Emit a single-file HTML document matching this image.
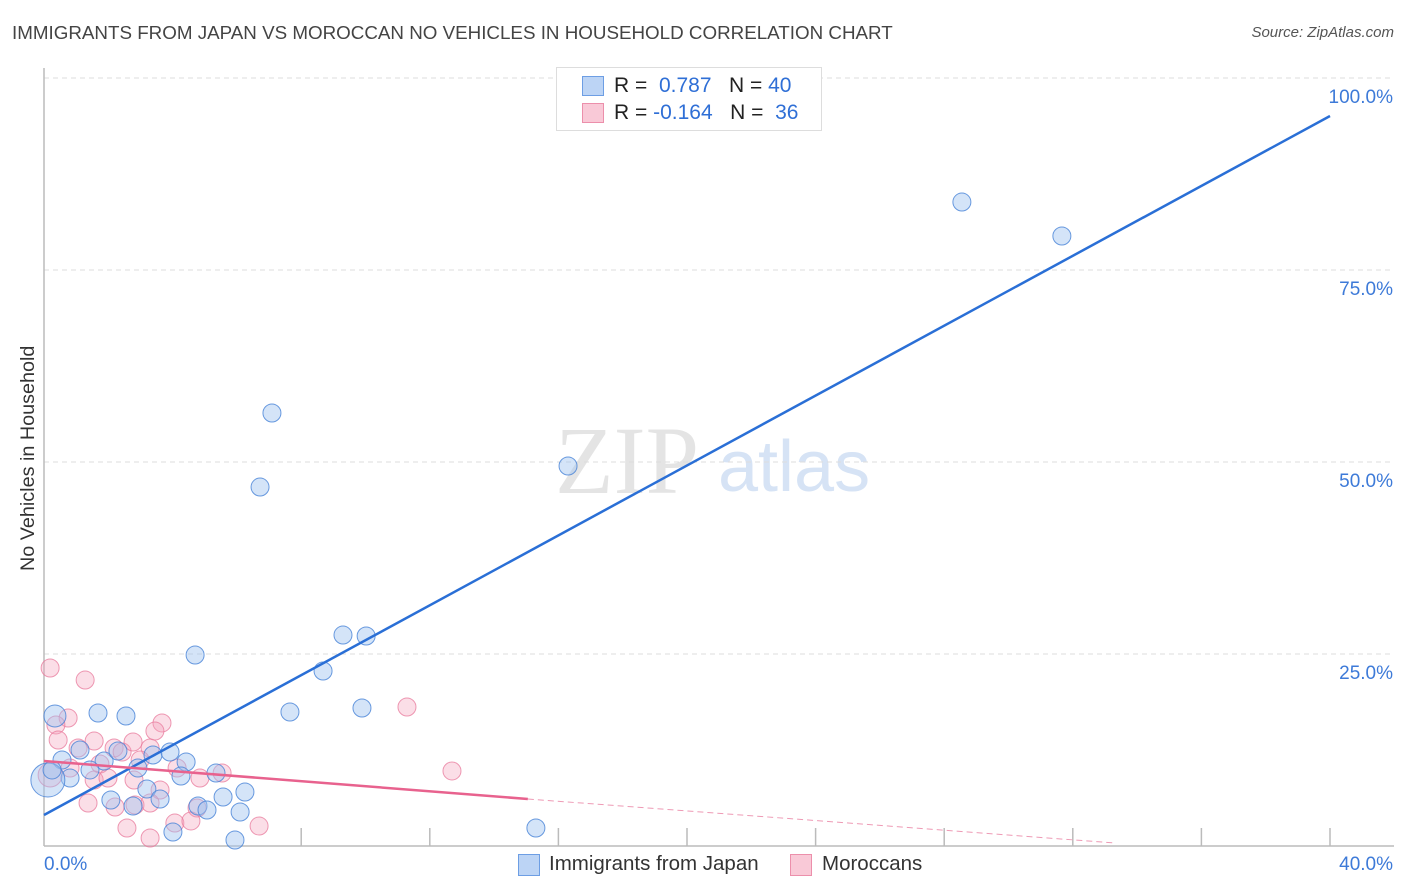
<!DOCTYPE html>
<html><head><meta charset="utf-8"><style>
body{margin:0;background:#fff;font-family:"Liberation Sans",sans-serif;}
#wrap{position:relative;width:1406px;height:892px;overflow:hidden;}
.t{position:absolute;white-space:nowrap;}
</style></head><body>
<div id="wrap">
<div class="t" style="left:12px;top:22px;font-size:18.8px;color:#444;">IMMIGRANTS FROM JAPAN VS MOROCCAN NO VEHICLES IN HOUSEHOLD CORRELATION CHART</div>
<div class="t" style="right:12px;top:24px;font-size:15px;color:#555;font-style:italic;">Source: ZipAtlas.com</div>
<div class="t" style="left:17px;font-size:19.8px;color:#333;transform:rotate(-90deg);transform-origin:0 0;top:571px;">No Vehicles in Household</div>
<svg id="svg" width="1406" height="892" style="position:absolute;left:0;top:0">
<text x="555" y="493" font-family="Liberation Serif" font-size="96" fill="#e4e4e4">ZIP</text>
<text x="718" y="491" font-family="Liberation Sans" font-size="72" fill="#d6e3f5">atlas</text>
</svg>
<div style="position:absolute;left:556px;top:67px;width:264px;height:62px;border:1px solid #ddd;background:#fff;">
<div style="position:absolute;left:25px;top:8px;width:20px;height:18px;background:#bcd4f5;border:1px solid #6d9ee4;"></div>
<div class="t" style="left:57px;top:6px;font-size:21px;color:#222;">R = <span style="color:#2f6fd6">&nbsp;0.787</span>&nbsp;&nbsp;&nbsp;N = <span style="color:#2f6fd6">40</span></div>
<div style="position:absolute;left:25px;top:35px;width:20px;height:18px;background:#f9c9d7;border:1px solid #ec8fab;"></div>
<div class="t" style="left:57px;top:33px;font-size:21px;color:#222;">R = <span style="color:#2f6fd6">-0.164</span>&nbsp;&nbsp;&nbsp;N = <span style="color:#2f6fd6">&nbsp;36</span></div>
</div>
<div style="position:absolute;left:518px;top:854px;width:20px;height:20px;background:#bcd4f5;border:1px solid #6d9ee4;"></div>
<div class="t" style="left:549px;top:852px;font-size:20.5px;color:#333;">Immigrants from Japan</div>
<div style="position:absolute;left:790px;top:854px;width:20px;height:20px;background:#f9c9d7;border:1px solid #ec8fab;"></div>
<div class="t" style="left:822px;top:852px;font-size:20.5px;color:#333;">Moroccans</div>
</div>
<script>
const yTicks=[25,50,75,100];
const yTickLabels=["25.0%","50.0%","75.0%","100.0%"];
const xTickLabels=["0.0%","40.0%"];
const japanX=[28.55,31.66,7.09,6.72,16.30,4.70,9.30,10.02,8.68,7.65,9.89,15.30,0.34,1.68,2.55,1.12,0.56,1.87,2.30,3.39,3.92,4.42,1.43,2.92,4.26,5.35,0.81,0.12,3.20,2.08,2.77,3.61,5.57,6.25,4.79,5.07,6.10,4.01,5.94,0.25];
const japanY=[83.85,79.43,56.38,46.74,49.48,24.87,27.47,27.34,22.79,17.45,17.97,2.34,16.93,17.32,16.93,12.5,11.2,11.07,12.37,11.85,12.24,10.94,9.9,10.16,9.11,9.5,8.85,8.59,7.42,5.99,5.21,6.12,6.38,7.03,5.21,4.69,4.43,1.82,0.78,9.9];
const japanR=[9,9,9,9,9,9,9,9,9,9,9,9,11,9,9,9,9,9,9,9,9,9,9,9,9,9,9,17,9,9,9,9,9,9,9,9,9,9,9,9];
const morX=[0.19,1.28,0.75,0.37,0.44,1.56,1.06,2.18,3.30,3.67,3.45,2.43,2.77,0.81,1.74,2.99,4.14,1.56,1.99,2.80,3.61,1.37,2.21,2.83,3.30,4.76,4.85,5.54,2.58,3.30,4.07,4.57,6.69,11.29,12.69,0.19];
const morY=[23.18,21.61,16.67,15.76,13.8,13.67,12.76,12.76,12.76,16.02,14.97,12.24,13.54,10.16,10.68,11.2,10.16,8.59,8.85,8.59,7.29,5.6,5.08,5.34,5.6,4.95,8.85,9.5,2.34,1.04,2.99,3.26,2.6,18.1,9.77,9.24];
const morR=[9,9,9,9,9,9,9,9,9,9,9,9,9,9,9,9,9,9,9,9,9,9,9,9,9,9,9,9,9,9,9,9,9,9,9,12];
const japanTrend=[[0,4.04],[40,95.05]];
const morTrendSolid=[[0,11.07],[15.05,6.12]];
const morTrendDash=[[15.05,6.12],[33.31,0.39]];

const X0=44,X1=1330,Y0=846,Y100=78;
const sx=v=>X0+(v/40)*(X1-X0);
const sy=v=>Y0-(v/100)*(Y0-Y100);
const svg=document.getElementById('svg');
const NS='http://www.w3.org/2000/svg';
function mk(tag,attrs){const e=document.createElementNS(NS,tag);for(const k in attrs)e.setAttribute(k,attrs[k]);svg.appendChild(e);return e;}

yTicks.forEach((t,i)=>{
  const g=mk('line',{x1:X0,x2:1394,y1:sy(t),y2:sy(t),stroke:'#ddd','stroke-dasharray':'5,4'});
  
  
  const l=mk('text',{x:1393,y:sy(t)+25,'text-anchor':'end','font-size':19,fill:'#3d7ad8','font-family':'Liberation Sans'});
  l.textContent=yTickLabels[i];
  
  
});
const ax=mk('line',{x1:X0,x2:X0,y1:68,y2:Y0,stroke:'#bbb','stroke-width':1.5});


const bx=mk('line',{x1:X0,x2:1394,y1:Y0,y2:Y0,stroke:'#bbb','stroke-width':1.5});


for(let i=2;i<=10;i++){
  const tk=mk('line',{x1:sx(i*4),x2:sx(i*4),y1:828,y2:Y0,stroke:'#bbb','stroke-width':1.5});
  
  
}
const xl0=mk('text',{x:X0,y:870,'font-size':19,fill:'#3d7ad8','font-family':'Liberation Sans'});
xl0.textContent=xTickLabels[0];


const xl1=mk('text',{x:1393,y:870,'text-anchor':'end','font-size':19,fill:'#3d7ad8','font-family':'Liberation Sans'});
xl1.textContent=xTickLabels[1];



morX.forEach((x,i)=>{
  const c=mk('circle',{cx:sx(x),cy:sy(morY[i]),r:morR[i],fill:'rgba(244,160,185,0.35)',stroke:'rgba(232,120,155,0.75)','stroke-width':1});
  
  
});
japanX.forEach((x,i)=>{
  const c=mk('circle',{cx:sx(x),cy:sy(japanY[i]),r:japanR[i],fill:'rgba(160,195,240,0.45)',stroke:'rgba(70,130,215,0.8)','stroke-width':1});
  
  
});
const jt=mk('line',{x1:sx(japanTrend[0][0]),y1:sy(japanTrend[0][1]),x2:sx(japanTrend[1][0]),y2:sy(japanTrend[1][1]),stroke:'#2a6fd6','stroke-width':2.5});


const ms=mk('line',{x1:sx(morTrendSolid[0][0]),y1:sy(morTrendSolid[0][1]),x2:sx(morTrendSolid[1][0]),y2:sy(morTrendSolid[1][1]),stroke:'#e8628e','stroke-width':2.5});


const md=mk('line',{x1:sx(morTrendDash[0][0]),y1:sy(morTrendDash[0][1]),x2:sx(morTrendDash[1][0]),y2:sy(morTrendDash[1][1]),stroke:'#ee9ab5','stroke-width':1,'stroke-dasharray':'6,4'});


</script>
</body></html>
